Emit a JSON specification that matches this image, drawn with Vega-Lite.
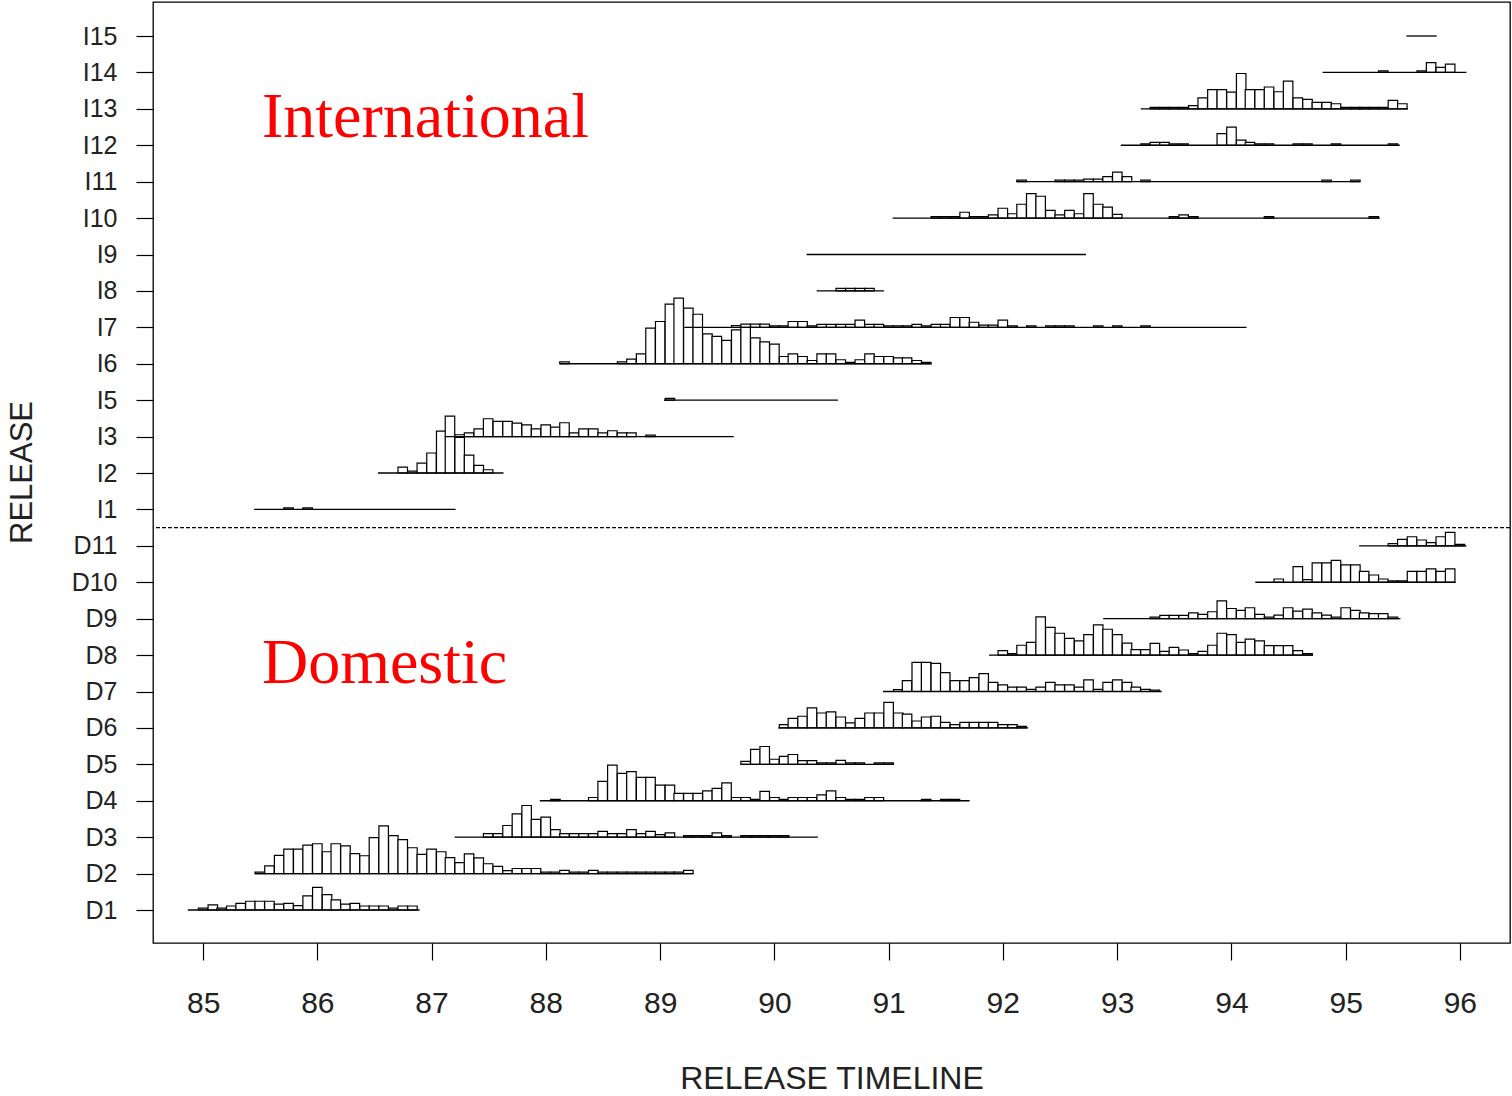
{
"$schema":"https://vega.github.io/schema/vega-lite/v6.json",
"width":1357,"height":941,
"autosize":{"type":"none"},
"padding":{"left":153,"top":2,"right":2,"bottom":153},
"background":"white",
"config":{"view":{"stroke":"black","strokeWidth":1.3},"font":"Liberation Sans"},
"layer":[
{"data":{"values":[
{"r":1,"m":"1985-01-01","hi":1.05},{"r":1,"m":"1985-02-01","hi":1.14},{"r":1,"m":"1985-03-01","hi":1.05},{"r":1,"m":"1985-04-01","hi":1.11},{"r":1,"m":"1985-05-01","hi":1.18},{"r":1,"m":"1985-06-01","hi":1.24},{"r":1,"m":"1985-07-01","hi":1.24},{"r":1,"m":"1985-08-01","hi":1.24},{"r":1,"m":"1985-09-01","hi":1.16},{"r":1,"m":"1985-10-01","hi":1.18},{"r":1,"m":"1985-11-01","hi":1.12},{"r":1,"m":"1985-12-01","hi":1.39},{"r":1,"m":"1986-01-01","hi":1.62},{"r":1,"m":"1986-02-01","hi":1.42},{"r":1,"m":"1986-03-01","hi":1.28},{"r":1,"m":"1986-04-01","hi":1.16},{"r":1,"m":"1986-05-01","hi":1.18},{"r":1,"m":"1986-06-01","hi":1.11},{"r":1,"m":"1986-07-01","hi":1.11},{"r":1,"m":"1986-08-01","hi":1.11},{"r":1,"m":"1986-09-01","hi":1.05},{"r":1,"m":"1986-10-01","hi":1.11},{"r":1,"m":"1986-11-01","hi":1.11},
{"r":2,"m":"1985-07-01","hi":2.04},{"r":2,"m":"1985-08-01","hi":2.21},{"r":2,"m":"1985-09-01","hi":2.50},{"r":2,"m":"1985-10-01","hi":2.67},{"r":2,"m":"1985-11-01","hi":2.67},{"r":2,"m":"1985-12-01","hi":2.78},{"r":2,"m":"1986-01-01","hi":2.82},{"r":2,"m":"1986-02-01","hi":2.60},{"r":2,"m":"1986-03-01","hi":2.82},{"r":2,"m":"1986-04-01","hi":2.76},{"r":2,"m":"1986-05-01","hi":2.55},{"r":2,"m":"1986-06-01","hi":2.49},{"r":2,"m":"1986-07-01","hi":2.99},{"r":2,"m":"1986-08-01","hi":3.31},{"r":2,"m":"1986-09-01","hi":3.04},{"r":2,"m":"1986-10-01","hi":2.93},{"r":2,"m":"1986-11-01","hi":2.71},{"r":2,"m":"1986-12-01","hi":2.53},{"r":2,"m":"1987-01-01","hi":2.67},{"r":2,"m":"1987-02-01","hi":2.60},{"r":2,"m":"1987-03-01","hi":2.44},{"r":2,"m":"1987-04-01","hi":2.30},{"r":2,"m":"1987-05-01","hi":2.54},{"r":2,"m":"1987-06-01","hi":2.43},{"r":2,"m":"1987-07-01","hi":2.27},{"r":2,"m":"1987-08-01","hi":2.20},{"r":2,"m":"1987-09-01","hi":2.08},{"r":2,"m":"1987-10-01","hi":2.14},{"r":2,"m":"1987-11-01","hi":2.14},{"r":2,"m":"1987-12-01","hi":2.14},{"r":2,"m":"1988-01-01","hi":2.04},{"r":2,"m":"1988-02-01","hi":2.04},{"r":2,"m":"1988-03-01","hi":2.09},{"r":2,"m":"1988-04-01","hi":2.04},{"r":2,"m":"1988-05-01","hi":2.04},{"r":2,"m":"1988-06-01","hi":2.09},{"r":2,"m":"1988-07-01","hi":2.04},{"r":2,"m":"1988-08-01","hi":2.04},{"r":2,"m":"1988-09-01","hi":2.04},{"r":2,"m":"1988-10-01","hi":2.04},{"r":2,"m":"1988-11-01","hi":2.04},{"r":2,"m":"1988-12-01","hi":2.04},{"r":2,"m":"1989-01-01","hi":2.04},{"r":2,"m":"1989-02-01","hi":2.04},{"r":2,"m":"1989-03-01","hi":2.04},{"r":2,"m":"1989-04-01","hi":2.09},
{"r":3,"m":"1987-07-01","hi":3.10},{"r":3,"m":"1987-08-01","hi":3.10},{"r":3,"m":"1987-09-01","hi":3.32},{"r":3,"m":"1987-10-01","hi":3.64},{"r":3,"m":"1987-11-01","hi":3.87},{"r":3,"m":"1987-12-01","hi":3.49},{"r":3,"m":"1988-01-01","hi":3.55},{"r":3,"m":"1988-02-01","hi":3.21},{"r":3,"m":"1988-03-01","hi":3.10},{"r":3,"m":"1988-04-01","hi":3.10},{"r":3,"m":"1988-05-01","hi":3.10},{"r":3,"m":"1988-06-01","hi":3.10},{"r":3,"m":"1988-07-01","hi":3.16},{"r":3,"m":"1988-08-01","hi":3.10},{"r":3,"m":"1988-09-01","hi":3.10},{"r":3,"m":"1988-10-01","hi":3.21},{"r":3,"m":"1988-11-01","hi":3.10},{"r":3,"m":"1988-12-01","hi":3.16},{"r":3,"m":"1989-01-01","hi":3.07},{"r":3,"m":"1989-02-01","hi":3.12},{"r":3,"m":"1989-04-01","hi":3.04},{"r":3,"m":"1989-05-01","hi":3.04},{"r":3,"m":"1989-06-01","hi":3.04},{"r":3,"m":"1989-07-01","hi":3.12},{"r":3,"m":"1989-08-01","hi":3.04},{"r":3,"m":"1989-10-01","hi":3.04},{"r":3,"m":"1989-11-01","hi":3.04},{"r":3,"m":"1989-12-01","hi":3.04},{"r":3,"m":"1990-01-01","hi":3.04},{"r":3,"m":"1990-02-01","hi":3.04},
{"r":4,"m":"1988-02-01","hi":4.04},{"r":4,"m":"1988-06-01","hi":4.09},{"r":4,"m":"1988-07-01","hi":4.53},{"r":4,"m":"1988-08-01","hi":4.98},{"r":4,"m":"1988-09-01","hi":4.75},{"r":4,"m":"1988-10-01","hi":4.80},{"r":4,"m":"1988-11-01","hi":4.64},{"r":4,"m":"1988-12-01","hi":4.64},{"r":4,"m":"1989-01-01","hi":4.43},{"r":4,"m":"1989-02-01","hi":4.43},{"r":4,"m":"1989-03-01","hi":4.20},{"r":4,"m":"1989-04-01","hi":4.20},{"r":4,"m":"1989-05-01","hi":4.20},{"r":4,"m":"1989-06-01","hi":4.27},{"r":4,"m":"1989-07-01","hi":4.34},{"r":4,"m":"1989-08-01","hi":4.49},{"r":4,"m":"1989-09-01","hi":4.09},{"r":4,"m":"1989-10-01","hi":4.09},{"r":4,"m":"1989-11-01","hi":4.04},{"r":4,"m":"1989-12-01","hi":4.26},{"r":4,"m":"1990-01-01","hi":4.09},{"r":4,"m":"1990-02-01","hi":4.04},{"r":4,"m":"1990-03-01","hi":4.09},{"r":4,"m":"1990-04-01","hi":4.09},{"r":4,"m":"1990-05-01","hi":4.09},{"r":4,"m":"1990-06-01","hi":4.16},{"r":4,"m":"1990-07-01","hi":4.27},{"r":4,"m":"1990-08-01","hi":4.09},{"r":4,"m":"1990-09-01","hi":4.04},{"r":4,"m":"1990-10-01","hi":4.04},{"r":4,"m":"1990-11-01","hi":4.09},{"r":4,"m":"1990-12-01","hi":4.09},{"r":4,"m":"1991-05-01","hi":4.04},{"r":4,"m":"1991-07-01","hi":4.04},{"r":4,"m":"1991-08-01","hi":4.04},
{"r":5,"m":"1989-10-01","hi":5.08},{"r":5,"m":"1989-11-01","hi":5.41},{"r":5,"m":"1989-12-01","hi":5.49},{"r":5,"m":"1990-01-01","hi":5.14},{"r":5,"m":"1990-02-01","hi":5.22},{"r":5,"m":"1990-03-01","hi":5.27},{"r":5,"m":"1990-04-01","hi":5.10},{"r":5,"m":"1990-05-01","hi":5.10},{"r":5,"m":"1990-06-01","hi":5.04},{"r":5,"m":"1990-07-01","hi":5.04},{"r":5,"m":"1990-08-01","hi":5.11},{"r":5,"m":"1990-09-01","hi":5.04},{"r":5,"m":"1990-10-01","hi":5.04},{"r":5,"m":"1990-12-01","hi":5.04},{"r":5,"m":"1991-01-01","hi":5.04},
{"r":6,"m":"1990-02-01","hi":6.09},{"r":6,"m":"1990-03-01","hi":6.26},{"r":6,"m":"1990-04-01","hi":6.32},{"r":6,"m":"1990-05-01","hi":6.55},{"r":6,"m":"1990-06-01","hi":6.41},{"r":6,"m":"1990-07-01","hi":6.44},{"r":6,"m":"1990-08-01","hi":6.30},{"r":6,"m":"1990-09-01","hi":6.14},{"r":6,"m":"1990-10-01","hi":6.26},{"r":6,"m":"1990-11-01","hi":6.41},{"r":6,"m":"1990-12-01","hi":6.41},{"r":6,"m":"1991-01-01","hi":6.70},{"r":6,"m":"1991-02-01","hi":6.41},{"r":6,"m":"1991-03-01","hi":6.38},{"r":6,"m":"1991-04-01","hi":6.19},{"r":6,"m":"1991-05-01","hi":6.30},{"r":6,"m":"1991-06-01","hi":6.32},{"r":6,"m":"1991-07-01","hi":6.15},{"r":6,"m":"1991-08-01","hi":6.09},{"r":6,"m":"1991-09-01","hi":6.15},{"r":6,"m":"1991-10-01","hi":6.15},{"r":6,"m":"1991-11-01","hi":6.15},{"r":6,"m":"1991-12-01","hi":6.15},{"r":6,"m":"1992-01-01","hi":6.09},{"r":6,"m":"1992-02-01","hi":6.09},{"r":6,"m":"1992-03-01","hi":6.04},
{"r":7,"m":"1991-02-01","hi":7.05},{"r":7,"m":"1991-03-01","hi":7.30},{"r":7,"m":"1991-04-01","hi":7.80},{"r":7,"m":"1991-05-01","hi":7.80},{"r":7,"m":"1991-06-01","hi":7.77},{"r":7,"m":"1991-07-01","hi":7.52},{"r":7,"m":"1991-08-01","hi":7.30},{"r":7,"m":"1991-09-01","hi":7.30},{"r":7,"m":"1991-10-01","hi":7.38},{"r":7,"m":"1991-11-01","hi":7.49},{"r":7,"m":"1991-12-01","hi":7.25},{"r":7,"m":"1992-01-01","hi":7.18},{"r":7,"m":"1992-02-01","hi":7.12},{"r":7,"m":"1992-03-01","hi":7.12},{"r":7,"m":"1992-04-01","hi":7.06},{"r":7,"m":"1992-05-01","hi":7.12},{"r":7,"m":"1992-06-01","hi":7.25},{"r":7,"m":"1992-07-01","hi":7.18},{"r":7,"m":"1992-08-01","hi":7.18},{"r":7,"m":"1992-09-01","hi":7.12},{"r":7,"m":"1992-10-01","hi":7.32},{"r":7,"m":"1992-11-01","hi":7.06},{"r":7,"m":"1992-12-01","hi":7.25},{"r":7,"m":"1993-01-01","hi":7.32},{"r":7,"m":"1993-02-01","hi":7.25},{"r":7,"m":"1993-03-01","hi":7.12},{"r":7,"m":"1993-04-01","hi":7.06},{"r":7,"m":"1993-05-01","hi":7.04},
{"r":8,"m":"1992-01-01","hi":8.12},{"r":8,"m":"1992-02-01","hi":8.04},{"r":8,"m":"1992-03-01","hi":8.27},{"r":8,"m":"1992-04-01","hi":8.35},{"r":8,"m":"1992-05-01","hi":9.05},{"r":8,"m":"1992-06-01","hi":8.76},{"r":8,"m":"1992-07-01","hi":8.60},{"r":8,"m":"1992-08-01","hi":8.46},{"r":8,"m":"1992-09-01","hi":8.39},{"r":8,"m":"1992-10-01","hi":8.56},{"r":8,"m":"1992-11-01","hi":8.83},{"r":8,"m":"1992-12-01","hi":8.71},{"r":8,"m":"1993-01-01","hi":8.56},{"r":8,"m":"1993-02-01","hi":8.33},{"r":8,"m":"1993-03-01","hi":8.15},{"r":8,"m":"1993-04-01","hi":8.15},{"r":8,"m":"1993-05-01","hi":8.32},{"r":8,"m":"1993-06-01","hi":8.10},{"r":8,"m":"1993-07-01","hi":8.21},{"r":8,"m":"1993-08-01","hi":8.14},{"r":8,"m":"1993-09-01","hi":8.04},{"r":8,"m":"1993-10-01","hi":8.10},{"r":8,"m":"1993-11-01","hi":8.27},{"r":8,"m":"1993-12-01","hi":8.60},{"r":8,"m":"1994-01-01","hi":8.56},{"r":8,"m":"1994-02-01","hi":8.35},{"r":8,"m":"1994-03-01","hi":8.44},{"r":8,"m":"1994-04-01","hi":8.39},{"r":8,"m":"1994-05-01","hi":8.26},{"r":8,"m":"1994-06-01","hi":8.26},{"r":8,"m":"1994-07-01","hi":8.26},{"r":8,"m":"1994-08-01","hi":8.12},{"r":8,"m":"1994-09-01","hi":8.04},
{"r":9,"m":"1993-05-01","hi":9.04},{"r":9,"m":"1993-06-01","hi":9.09},{"r":9,"m":"1993-07-01","hi":9.09},{"r":9,"m":"1993-08-01","hi":9.09},{"r":9,"m":"1993-09-01","hi":9.16},{"r":9,"m":"1993-10-01","hi":9.12},{"r":9,"m":"1993-11-01","hi":9.19},{"r":9,"m":"1993-12-01","hi":9.49},{"r":9,"m":"1994-01-01","hi":9.28},{"r":9,"m":"1994-02-01","hi":9.23},{"r":9,"m":"1994-03-01","hi":9.30},{"r":9,"m":"1994-04-01","hi":9.12},{"r":9,"m":"1994-05-01","hi":9.04},{"r":9,"m":"1994-06-01","hi":9.10},{"r":9,"m":"1994-07-01","hi":9.30},{"r":9,"m":"1994-08-01","hi":9.21},{"r":9,"m":"1994-09-01","hi":9.26},{"r":9,"m":"1994-10-01","hi":9.16},{"r":9,"m":"1994-11-01","hi":9.10},{"r":9,"m":"1994-12-01","hi":9.04},{"r":9,"m":"1995-01-01","hi":9.30},{"r":9,"m":"1995-02-01","hi":9.23},{"r":9,"m":"1995-03-01","hi":9.16},{"r":9,"m":"1995-04-01","hi":9.14},{"r":9,"m":"1995-05-01","hi":9.14},{"r":9,"m":"1995-06-01","hi":9.04},
{"r":10,"m":"1994-06-01","hi":10.09},{"r":10,"m":"1994-08-01","hi":10.43},{"r":10,"m":"1994-09-01","hi":10.07},{"r":10,"m":"1994-10-01","hi":10.53},{"r":10,"m":"1994-11-01","hi":10.53},{"r":10,"m":"1994-12-01","hi":10.60},{"r":10,"m":"1995-01-01","hi":10.48},{"r":10,"m":"1995-02-01","hi":10.48},{"r":10,"m":"1995-03-01","hi":10.30},{"r":10,"m":"1995-04-01","hi":10.20},{"r":10,"m":"1995-05-01","hi":10.09},{"r":10,"m":"1995-06-01","hi":10.04},{"r":10,"m":"1995-07-01","hi":10.04},{"r":10,"m":"1995-08-01","hi":10.30},{"r":10,"m":"1995-09-01","hi":10.30},{"r":10,"m":"1995-10-01","hi":10.37},{"r":10,"m":"1995-11-01","hi":10.30},{"r":10,"m":"1995-12-01","hi":10.37},
{"r":11,"m":"1995-06-01","hi":11.06},{"r":11,"m":"1995-07-01","hi":11.18},{"r":11,"m":"1995-08-01","hi":11.25},{"r":11,"m":"1995-09-01","hi":11.16},{"r":11,"m":"1995-10-01","hi":11.09},{"r":11,"m":"1995-11-01","hi":11.25},{"r":11,"m":"1995-12-01","hi":11.37},{"r":11,"m":"1996-01-01","hi":11.04},
{"r":12,"m":"1985-10-01","hi":12.04},{"r":12,"m":"1985-12-01","hi":12.04},
{"r":13,"m":"1986-10-01","hi":13.16},{"r":13,"m":"1986-11-01","hi":13.05},{"r":13,"m":"1986-12-01","hi":13.27},{"r":13,"m":"1987-01-01","hi":13.55},{"r":13,"m":"1987-02-01","hi":14.15},{"r":13,"m":"1987-03-01","hi":14.56},{"r":13,"m":"1987-04-01","hi":13.98},{"r":13,"m":"1987-05-01","hi":13.49},{"r":13,"m":"1987-06-01","hi":13.21},{"r":13,"m":"1987-07-01","hi":13.09},
{"r":14,"m":"1987-04-01","hi":14.05},{"r":14,"m":"1987-05-01","hi":14.10},{"r":14,"m":"1987-06-01","hi":14.21},{"r":14,"m":"1987-07-01","hi":14.49},{"r":14,"m":"1987-08-01","hi":14.42},{"r":14,"m":"1987-09-01","hi":14.42},{"r":14,"m":"1987-10-01","hi":14.37},{"r":14,"m":"1987-11-01","hi":14.32},{"r":14,"m":"1987-12-01","hi":14.21},{"r":14,"m":"1988-01-01","hi":14.32},{"r":14,"m":"1988-02-01","hi":14.26},{"r":14,"m":"1988-03-01","hi":14.38},{"r":14,"m":"1988-04-01","hi":14.10},{"r":14,"m":"1988-05-01","hi":14.21},{"r":14,"m":"1988-06-01","hi":14.21},{"r":14,"m":"1988-07-01","hi":14.10},{"r":14,"m":"1988-08-01","hi":14.16},{"r":14,"m":"1988-09-01","hi":14.10},{"r":14,"m":"1988-10-01","hi":14.10},{"r":14,"m":"1988-12-01","hi":14.04},
{"r":15,"m":"1989-02-01","hi":15.05},
{"r":16,"m":"1988-03-01","hi":16.05},{"r":16,"m":"1988-09-01","hi":16.05},{"r":16,"m":"1988-10-01","hi":16.13},{"r":16,"m":"1988-11-01","hi":16.27},{"r":16,"m":"1988-12-01","hi":16.98},{"r":16,"m":"1989-01-01","hi":17.16},{"r":16,"m":"1989-02-01","hi":17.64},{"r":16,"m":"1989-03-01","hi":17.80},{"r":16,"m":"1989-04-01","hi":17.53},{"r":16,"m":"1989-05-01","hi":17.36},{"r":16,"m":"1989-06-01","hi":16.82},{"r":16,"m":"1989-07-01","hi":16.75},{"r":16,"m":"1989-08-01","hi":16.64},{"r":16,"m":"1989-09-01","hi":16.93},{"r":16,"m":"1989-10-01","hi":17.02},{"r":16,"m":"1989-11-01","hi":16.71},{"r":16,"m":"1989-12-01","hi":16.60},{"r":16,"m":"1990-01-01","hi":16.54},{"r":16,"m":"1990-02-01","hi":16.20},{"r":16,"m":"1990-03-01","hi":16.27},{"r":16,"m":"1990-04-01","hi":16.20},{"r":16,"m":"1990-05-01","hi":16.09},{"r":16,"m":"1990-06-01","hi":16.27},{"r":16,"m":"1990-07-01","hi":16.27},{"r":16,"m":"1990-08-01","hi":16.11},{"r":16,"m":"1990-09-01","hi":16.04},{"r":16,"m":"1990-10-01","hi":16.11},{"r":16,"m":"1990-11-01","hi":16.27},{"r":16,"m":"1990-12-01","hi":16.20},{"r":16,"m":"1991-01-01","hi":16.20},{"r":16,"m":"1991-02-01","hi":16.16},{"r":16,"m":"1991-03-01","hi":16.16},{"r":16,"m":"1991-04-01","hi":16.09},{"r":16,"m":"1991-05-01","hi":16.04},
{"r":17,"m":"1989-09-01","hi":17.05},{"r":17,"m":"1989-10-01","hi":17.09},{"r":17,"m":"1989-11-01","hi":17.09},{"r":17,"m":"1989-12-01","hi":17.09},{"r":17,"m":"1990-01-01","hi":17.04},{"r":17,"m":"1990-02-01","hi":17.04},{"r":17,"m":"1990-03-01","hi":17.16},{"r":17,"m":"1990-04-01","hi":17.16},{"r":17,"m":"1990-05-01","hi":17.04},{"r":17,"m":"1990-06-01","hi":17.08},{"r":17,"m":"1990-07-01","hi":17.08},{"r":17,"m":"1990-08-01","hi":17.08},{"r":17,"m":"1990-09-01","hi":17.08},{"r":17,"m":"1990-10-01","hi":17.20},{"r":17,"m":"1990-11-01","hi":17.08},{"r":17,"m":"1990-12-01","hi":17.08},{"r":17,"m":"1991-01-01","hi":17.04},{"r":17,"m":"1991-02-01","hi":17.04},{"r":17,"m":"1991-03-01","hi":17.04},{"r":17,"m":"1991-04-01","hi":17.08},{"r":17,"m":"1991-05-01","hi":17.04},{"r":17,"m":"1991-06-01","hi":17.08},{"r":17,"m":"1991-07-01","hi":17.08},{"r":17,"m":"1991-08-01","hi":17.27},{"r":17,"m":"1991-09-01","hi":17.27},{"r":17,"m":"1991-10-01","hi":17.14},{"r":17,"m":"1991-11-01","hi":17.06},{"r":17,"m":"1991-12-01","hi":17.06},{"r":17,"m":"1992-01-01","hi":17.20},{"r":17,"m":"1992-02-01","hi":17.04},{"r":17,"m":"1992-04-01","hi":17.04},{"r":17,"m":"1992-06-01","hi":17.04},{"r":17,"m":"1992-07-01","hi":17.04},{"r":17,"m":"1992-08-01","hi":17.04},{"r":17,"m":"1992-11-01","hi":17.04},{"r":17,"m":"1993-01-01","hi":17.04},{"r":17,"m":"1993-04-01","hi":17.04},
{"r":18,"m":"1990-08-01","hi":18.07},{"r":18,"m":"1990-09-01","hi":18.07},{"r":18,"m":"1990-10-01","hi":18.07},{"r":18,"m":"1990-11-01","hi":18.07},
{"r":20,"m":"1991-06-01","hi":20.04},{"r":20,"m":"1991-07-01","hi":20.04},{"r":20,"m":"1991-08-01","hi":20.04},{"r":20,"m":"1991-09-01","hi":20.16},{"r":20,"m":"1991-10-01","hi":20.04},{"r":20,"m":"1991-11-01","hi":20.04},{"r":20,"m":"1991-12-01","hi":20.09},{"r":20,"m":"1992-01-01","hi":20.27},{"r":20,"m":"1992-02-01","hi":20.12},{"r":20,"m":"1992-03-01","hi":20.38},{"r":20,"m":"1992-04-01","hi":20.67},{"r":20,"m":"1992-05-01","hi":20.60},{"r":20,"m":"1992-06-01","hi":20.21},{"r":20,"m":"1992-07-01","hi":20.09},{"r":20,"m":"1992-08-01","hi":20.21},{"r":20,"m":"1992-09-01","hi":20.12},{"r":20,"m":"1992-10-01","hi":20.67},{"r":20,"m":"1992-11-01","hi":20.38},{"r":20,"m":"1992-12-01","hi":20.30},{"r":20,"m":"1993-01-01","hi":20.10},{"r":20,"m":"1993-07-01","hi":20.04},{"r":20,"m":"1993-08-01","hi":20.09},{"r":20,"m":"1993-09-01","hi":20.04},{"r":20,"m":"1994-05-01","hi":20.04},{"r":20,"m":"1995-04-01","hi":20.04},
{"r":21,"m":"1992-03-01","hi":21.04},{"r":21,"m":"1992-07-01","hi":21.04},{"r":21,"m":"1992-08-01","hi":21.04},{"r":21,"m":"1992-09-01","hi":21.04},{"r":21,"m":"1992-10-01","hi":21.07},{"r":21,"m":"1992-11-01","hi":21.07},{"r":21,"m":"1992-12-01","hi":21.14},{"r":21,"m":"1993-01-01","hi":21.26},{"r":21,"m":"1993-02-01","hi":21.14},{"r":21,"m":"1993-04-01","hi":21.04},{"r":21,"m":"1994-11-01","hi":21.04},{"r":21,"m":"1995-02-01","hi":21.04},
{"r":22,"m":"1993-04-01","hi":22.04},{"r":22,"m":"1993-05-01","hi":22.08},{"r":22,"m":"1993-06-01","hi":22.08},{"r":22,"m":"1993-07-01","hi":22.04},{"r":22,"m":"1993-08-01","hi":22.04},{"r":22,"m":"1993-12-01","hi":22.32},{"r":22,"m":"1994-01-01","hi":22.50},{"r":22,"m":"1994-02-01","hi":22.14},{"r":22,"m":"1994-03-01","hi":22.08},{"r":22,"m":"1994-04-01","hi":22.04},{"r":22,"m":"1994-05-01","hi":22.04},{"r":22,"m":"1994-08-01","hi":22.04},{"r":22,"m":"1994-09-01","hi":22.04},{"r":22,"m":"1994-12-01","hi":22.04},{"r":22,"m":"1995-06-01","hi":22.04},
{"r":23,"m":"1993-05-01","hi":23.04},{"r":23,"m":"1993-06-01","hi":23.04},{"r":23,"m":"1993-07-01","hi":23.04},{"r":23,"m":"1993-08-01","hi":23.04},{"r":23,"m":"1993-09-01","hi":23.09},{"r":23,"m":"1993-10-01","hi":23.30},{"r":23,"m":"1993-11-01","hi":23.53},{"r":23,"m":"1993-12-01","hi":23.53},{"r":23,"m":"1994-01-01","hi":23.46},{"r":23,"m":"1994-02-01","hi":23.97},{"r":23,"m":"1994-03-01","hi":23.53},{"r":23,"m":"1994-04-01","hi":23.53},{"r":23,"m":"1994-05-01","hi":23.60},{"r":23,"m":"1994-06-01","hi":23.47},{"r":23,"m":"1994-07-01","hi":23.76},{"r":23,"m":"1994-08-01","hi":23.30},{"r":23,"m":"1994-09-01","hi":23.26},{"r":23,"m":"1994-10-01","hi":23.18},{"r":23,"m":"1994-11-01","hi":23.18},{"r":23,"m":"1994-12-01","hi":23.14},{"r":23,"m":"1995-01-01","hi":23.04},{"r":23,"m":"1995-02-01","hi":23.04},{"r":23,"m":"1995-03-01","hi":23.04},{"r":23,"m":"1995-04-01","hi":23.04},{"r":23,"m":"1995-05-01","hi":23.04},{"r":23,"m":"1995-06-01","hi":23.23},{"r":23,"m":"1995-07-01","hi":23.14},
{"r":24,"m":"1995-05-01","hi":24.04},{"r":24,"m":"1995-09-01","hi":24.04},{"r":24,"m":"1995-10-01","hi":24.27},{"r":24,"m":"1995-11-01","hi":24.14},{"r":24,"m":"1995-12-01","hi":24.23}
],"format":{"parse":{"m":"date"}}},
"mark":{"type":"bar","width":9.5,"fill":"white","stroke":"black","strokeWidth":1.2},
"encoding":{
"x":{"field":"m","type":"temporal","scale":{"type":"utc","nice":false,"padding":0,"domain":[{"year":1984,"month":7,"date":24,"hours":18,"utc":true},{"year":1996,"month":6,"date":9,"hours":5,"utc":true}]},
"axis":{"values":[{"year":1985,"utc":true},{"year":1986,"utc":true},{"year":1987,"utc":true},{"year":1988,"utc":true},{"year":1989,"utc":true},{"year":1990,"utc":true},{"year":1991,"utc":true},{"year":1992,"utc":true},{"year":1993,"utc":true},{"year":1994,"utc":true},{"year":1995,"utc":true},{"year":1996,"utc":true}],
"tickCount":12,"labelExpr":"utcFormat(datum.value,'%y')","title":"RELEASE TIMELINE","grid":false,"domain":false,"tickSize":17,"tickColor":"black","tickWidth":1.2,"labelPadding":28,"labelFontSize":30,"labelColor":"#222","labelFont":"Liberation Sans","labelFlush":false,"labelOverlap":false,"titleFont":"Liberation Sans","titleFontSize":32,"titleFontWeight":"normal","titleColor":"#222","titleY":145,"titleBaseline":"alphabetic"}},
"y":{"field":"r","type":"quantitative","scale":{"domain":[0.094,25.934],"nice":false,"zero":false,"padding":0},
"axis":{"values":[1,2,3,4,5,6,7,8,9,10,11,12,13,14,15,16,17,18,19,20,21,22,23,24,25],"tickCount":25,"labelOverlap":false,
"labelExpr":"['','D1','D2','D3','D4','D5','D6','D7','D8','D9','D10','D11','I1','I2','I3','I5','I6','I7','I8','I9','I10','I11','I12','I13','I14','I15'][datum.value]",
"title":"RELEASE","grid":false,"domain":false,"tickSize":17,"tickColor":"black","tickWidth":1.2,"labelPadding":19,"labelFontSize":25,"labelColor":"#222","labelFont":"Liberation Sans","labelBaseline":"middle","titleFont":"Liberation Sans","titleFontSize":31,"titleFontWeight":"normal","titleColor":"#222","titleAngle":-90,"titleX":-122,"titleY":470,"titleAlign":"center","titleBaseline":"alphabetic"}},
"y2":{"field":"hi"}}},
{"data":{"values":[
{"r":1,"s":"1984-11-13","e":"1986-11-24"},{"r":2,"s":"1985-06-16","e":"1989-04-17"},{"r":3,"s":"1987-03-16","e":"1990-05-20"},{"r":4,"s":"1987-12-13","e":"1991-09-17"},{"r":5,"s":"1989-09-15","e":"1991-01-15"},{"r":6,"s":"1990-01-13","e":"1992-03-22"},{"r":7,"s":"1990-12-14","e":"1993-05-23"},{"r":8,"s":"1991-11-18","e":"1994-09-19"},{"r":9,"s":"1992-11-17","e":"1995-06-25"},{"r":10,"s":"1994-03-18","e":"1995-12-18"},{"r":11,"s":"1995-02-13","e":"1996-01-22"},
{"r":12,"s":"1985-06-13","e":"1987-03-19"},{"r":13,"s":"1986-07-14","e":"1987-08-19"},{"r":14,"s":"1987-02-12","e":"1989-08-24"},{"r":15,"s":"1989-01-13","e":"1990-07-23"},{"r":16,"s":"1988-02-15","e":"1991-05-19"},{"r":17,"s":"1989-03-19","e":"1994-02-18"},{"r":18,"s":"1990-05-16","e":"1990-12-17"},{"r":19,"s":"1990-04-14","e":"1992-09-23"},{"r":20,"s":"1991-01-14","e":"1995-04-20"},{"r":21,"s":"1992-02-14","e":"1995-02-15"},{"r":22,"s":"1993-01-12","e":"1995-06-23"},{"r":23,"s":"1993-03-17","e":"1995-07-19"},{"r":24,"s":"1994-10-19","e":"1996-01-22"},{"r":25,"s":"1995-07-14","e":"1995-10-19"}
],"format":{"parse":{"s":"date","e":"date"}}},
"mark":{"type":"rule","stroke":"black","strokeWidth":1.3},
"encoding":{"x":{"field":"s","type":"temporal"},"x2":{"field":"e"},"y":{"field":"r","type":"quantitative"}}},
{"data":{"values":[{}]},
"mark":{"type":"rule","stroke":"black","strokeWidth":1.2,"strokeDash":[4,2]},
"encoding":{"y":{"datum":11.5,"type":"quantitative"}}},
{"data":{"values":[{"label":"International","t":"1985-07-08","r":22.23},{"label":"Domestic","t":"1985-07-08","r":7.23}],"format":{"parse":{"t":"date"}}},
"mark":{"type":"text","font":"Liberation Serif","fontSize":64,"color":"#ff0000","align":"left","baseline":"alphabetic"},
"encoding":{"x":{"field":"t","type":"temporal"},"y":{"field":"r","type":"quantitative"},"text":{"field":"label"}}}
]
}
